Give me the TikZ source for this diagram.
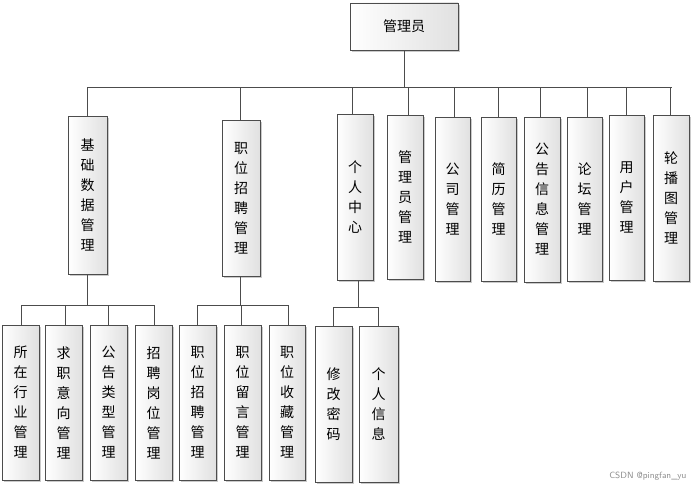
\documentclass[tikz,border=0pt]{standalone}
\usepackage{fontspec}
\newfontfamily\cjk{Noto Sans CJK SC}
\usetikzlibrary{shadows}
\tikzset{
 box/.style={draw=black!70,line width=0.8pt,left color=white,right color=black!12,
   drop shadow={shadow xshift=2pt,shadow yshift=-2pt,fill=black!35,opacity=0.6},
   font=\cjk\fontsize{14}{20}\selectfont,align=center,inner sep=0pt},
 ln/.style={draw=black!70,line width=0.8pt}
}
\newcommand{\bx}[6]{\node[box,minimum width=#4pt-#2pt,minimum height=#5pt-#3pt] (#1) at ({(#2+#4)/2},{(#3+#5)/2}) {#6};}
\newcommand{\stub}[3]{\coordinate (tmp) at (#2,#3); \draw[ln] (tmp) -- (tmp |- #1.north);}
\begin{document}
\begin{tikzpicture}[x=1pt,y=-1pt]
\useasboundingbox (0,0) rectangle (692,487);
\bx{root}{350}{3}{458}{50}{管理员}
\bx{a}{68}{116}{107}{274}{基\\础\\数\\据\\管\\理}
\bx{b}{222}{120}{260}{276}{职\\位\\招\\聘\\管\\理}
\bx{c}{337}{114}{373}{280}{个\\人\\中\\心}
\bx{d}{387}{115}{423}{279}{管\\理\\员\\管\\理}
\bx{e}{435}{117}{470}{281}{公\\司\\管\\理}
\bx{f}{481}{117}{516}{281}{简\\历\\管\\理}
\bx{g}{524}{117}{560}{282}{公\\告\\信\\息\\管\\理}
\bx{h}{567}{117}{602}{281}{论\\坛\\管\\理}
\bx{i}{609}{115}{644}{280}{用\\户\\管\\理}
\bx{j}{653}{115}{689}{281}{轮\\播\\图\\管\\理}
\bx{a1}{2}{325}{39}{480}{所\\在\\行\\业\\管\\理}
\bx{a2}{45}{325}{82}{480}{求\\职\\意\\向\\管\\理}
\bx{a3}{90}{325}{127}{480}{公\\告\\类\\型\\管\\理}
\bx{a4}{135}{325}{172}{480}{招\\聘\\岗\\位\\管\\理}
\bx{b1}{179}{325}{216}{480}{职\\位\\招\\聘\\管\\理}
\bx{b2}{224}{325}{261}{480}{职\\位\\留\\言\\管\\理}
\bx{b3}{269}{325}{305}{480}{职\\位\\收\\藏\\管\\理}
\bx{c1}{315}{326}{352}{482}{修\\改\\密\\码}
\bx{c2}{359}{326}{398}{482}{个\\人\\信\\息}
% top level
\draw[ln] (root.south) -- (root.south |- 0,87);
\draw[ln] (87,87) -- (672,87);
\foreach \n/\x in {a/87,b/240,c/352,d/408,e/454,f/498,g/540,h/587,i/626,j/670}
  {\stub{\n}{\x}{87}}
% second level
\draw[ln] (a.south -| 87,0) -- (87,305);
\draw[ln] (21,305) -- (154,305);
\foreach \n/\x in {a1/21,a2/65,a3/108,a4/154} {\stub{\n}{\x}{305}}
\draw[ln] (b.south -| 240,0) -- (240,305);
\draw[ln] (197,305) -- (288,305);
\foreach \n/\x in {b1/197,b2/241,b3/288} {\stub{\n}{\x}{305}}
\draw[ln] (c.south -| 358,0) -- (358,307);
\draw[ln] (333,307) -- (378,307);
\foreach \n/\x in {c1/333,c2/378} {\stub{\n}{\x}{307}}
\node[font=\fontsize{9}{10}\selectfont\sffamily,text=black!45,anchor=east] (wm) at (690,476) {CSDN @pingfan\_yu};
\end{tikzpicture}
\end{document}
